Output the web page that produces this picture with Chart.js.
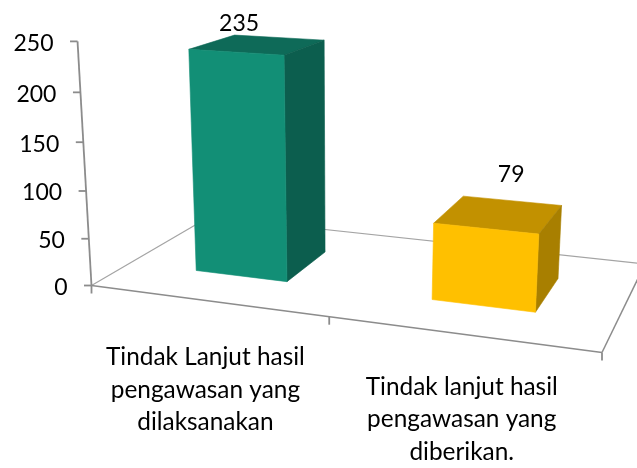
<!DOCTYPE html>
<html>
<head>
<meta charset="utf-8">
<title>Tindak lanjut hasil pengawasan</title>
<script src="https://cdn.jsdelivr.net/npm/chart.js@4/dist/chart.umd.min.js"></script>
<style>
  html, body { margin: 0; padding: 0; background: #fff; }
  #chart { display: block; }
</style>
</head>
<body>
<canvas id="chart" width="637" height="468"></canvas>
<script>
const categories = [
  ["Tindak Lanjut hasil", "pengawasan yang", "dilaksanakan"],
  ["Tindak lanjut hasil", "pengawasan yang", "diberikan."]
];
const values = [235, 79];
const valueTicks = [0, 50, 100, 150, 200, 250];

const frontColors = ["#128F76", "#FFC000"];
const sideColors = ["#0C5E4E", "#A87F00"];
const topColors = ["#0E6A58", "#C29100"];

// floor corners on screen, the camera is built from these
const floor = { a: [91.5, 285.5], b: [602, 352.5], c: [645, 264], d: [209, 217] };
const vanish = [344, 4700];
const riseK = -0.0524;
const depth = [0.3, 0.7];

const labelNudge = [[-19, -21], [12, -40]];
const catNudge = [[-1, 57], [1, 53]];

function buildCamera() {
  const { a, b, c, d } = floor;
  const dx1 = b[0] - c[0], dy1 = b[1] - c[1];
  const dx2 = d[0] - c[0], dy2 = d[1] - c[1];
  const sx = a[0] - b[0] + c[0] - d[0], sy = a[1] - b[1] + c[1] - d[1];
  const det = dx1 * dy2 - dx2 * dy1;
  const g = (sx * dy2 - dx2 * sy) / det;
  const h = (dx1 * sy - sx * dy1) / det;
  return {
    g, h,
    a: b[0] - a[0] + g * b[0], b: d[0] - a[0] + h * d[0], c: a[0],
    d: b[1] - a[1] + g * b[1], e: d[1] - a[1] + h * d[1], f: a[1]
  };
}
const cam = buildCamera();

// X along the categories, Y height, Z depth, all 0..1
function project(X, Y, Z) {
  const w = cam.g * X + cam.h * Z + 1 + Y * riseK;
  return [
    (cam.a * X + cam.b * Z + cam.c + Y * riseK * vanish[0]) / w,
    (cam.d * X + cam.e * Z + cam.f + Y * riseK * vanish[1]) / w
  ];
}

function poly(ctx, pts, fill) {
  ctx.beginPath();
  pts.forEach((p, i) => i ? ctx.lineTo(p[0], p[1]) : ctx.moveTo(p[0], p[1]));
  ctx.closePath();
  ctx.fillStyle = fill;
  ctx.fill();
  // closes the light seam between two faces
  ctx.strokeStyle = fill;
  ctx.lineWidth = 0.6;
  ctx.stroke();
}

function line(ctx, p, q, color, width) {
  ctx.beginPath();
  ctx.moveTo(p[0], p[1]);
  ctx.lineTo(q[0], q[1]);
  ctx.strokeStyle = color;
  ctx.lineWidth = width;
  ctx.stroke();
}

const box3d = {
  id: "box3d",
  // the floor and the axes go under the bars
  beforeDatasetsDraw(chart) {
    const ctx = chart.ctx;
    const yScale = chart.scales.y;
    const thin = "#A4A4A4", thick = "#8C8C8C";
    const heightOf = v => (yScale.bottom - yScale.getPixelForValue(v)) / yScale.height;

    ctx.save();
    line(ctx, project(0, 0, 0), project(0, 0, 1), thin, 1.2);
    line(ctx, project(0, 0, 1), project(1, 0, 1), thin, 1.2);
    line(ctx, project(1, 0, 1), project(1, 0, 0), thick, 1.5);
    line(ctx, project(0, 0, 0), project(1, 0, 0), thick, 1.5);
    line(ctx, project(0, 0, 0), project(0, 1, 0), thick, 1.8);

    [0, 0.5, 1].forEach(X => {
      const p = project(X, 0, 0);
      line(ctx, p, [p[0], p[1] + 8], thick, 1.8);
    });

    ctx.font = "23px Lato";
    ctx.textAlign = "right";
    ctx.textBaseline = "middle";
    yScale.ticks.forEach(t => {
      const p = project(0, heightOf(t.value), 0);
      line(ctx, p, [p[0] - 7.5, p[1]], thick, 1.8);
      ctx.fillStyle = "#000";
      ctx.fillText(String(t.value), p[0] - 24, p[1] + 2);
    });
    ctx.restore();
  },
  // faces are drawn from the bar elements the library laid out
  beforeDatasetDraw(chart, args) {
    const ctx = chart.ctx;
    const area = chart.chartArea;
    const yScale = chart.scales.y;
    ctx.save();
    args.meta.data.forEach((bar, i) => {
      const X0 = (bar.x - bar.width / 2 - area.left) / area.width;
      const X1 = (bar.x + bar.width / 2 - area.left) / area.width;
      const H = (yScale.bottom - bar.y) / yScale.height;
      const [Z0, Z1] = depth;
      poly(ctx, [project(X0, H, Z0), project(X1, H, Z0), project(X1, H, Z1), project(X0, H, Z1)], topColors[i]);
      poly(ctx, [project(X1, 0, Z0), project(X1, H, Z0), project(X1, H, Z1), project(X1, 0, Z1)], sideColors[i]);
      poly(ctx, [project(X0, 0, Z0), project(X1, 0, Z0), project(X1, H, Z0), project(X0, H, Z0)], frontColors[i]);

      const mid = project((X0 + X1) / 2, H, (Z0 + Z1) / 2);
      ctx.fillStyle = "#000";
      ctx.textAlign = "center";
      ctx.textBaseline = "middle";
      ctx.font = "23px Lato";
      ctx.fillText(String(values[i]), mid[0] + labelNudge[i][0], mid[1] + labelNudge[i][1]);

      const tick = project((X0 + X1) / 2, 0, 0);
      ctx.font = "24.4px Lato";
      categories[i].forEach((text, n) => {
        ctx.fillText(text, tick[0] + catNudge[i][0], tick[1] + catNudge[i][1] + n * 32.5);
      });
    });
    ctx.restore();
    return false;
  }
};

new Chart(document.getElementById("chart"), {
  type: "bar",
  data: {
    labels: categories,
    datasets: [{ data: values, backgroundColor: frontColors, barPercentage: 0.4, categoryPercentage: 1 }]
  },
  options: {
    responsive: false,
    animation: false,
    layout: { padding: 0 },
    plugins: { legend: { display: false }, tooltip: { enabled: false } },
    scales: {
      x: { display: false },
      y: { display: false, min: valueTicks[0], max: valueTicks[valueTicks.length - 1], ticks: { stepSize: 50 } }
    }
  },
  plugins: [box3d]
});
</script>
</body>
</html>
